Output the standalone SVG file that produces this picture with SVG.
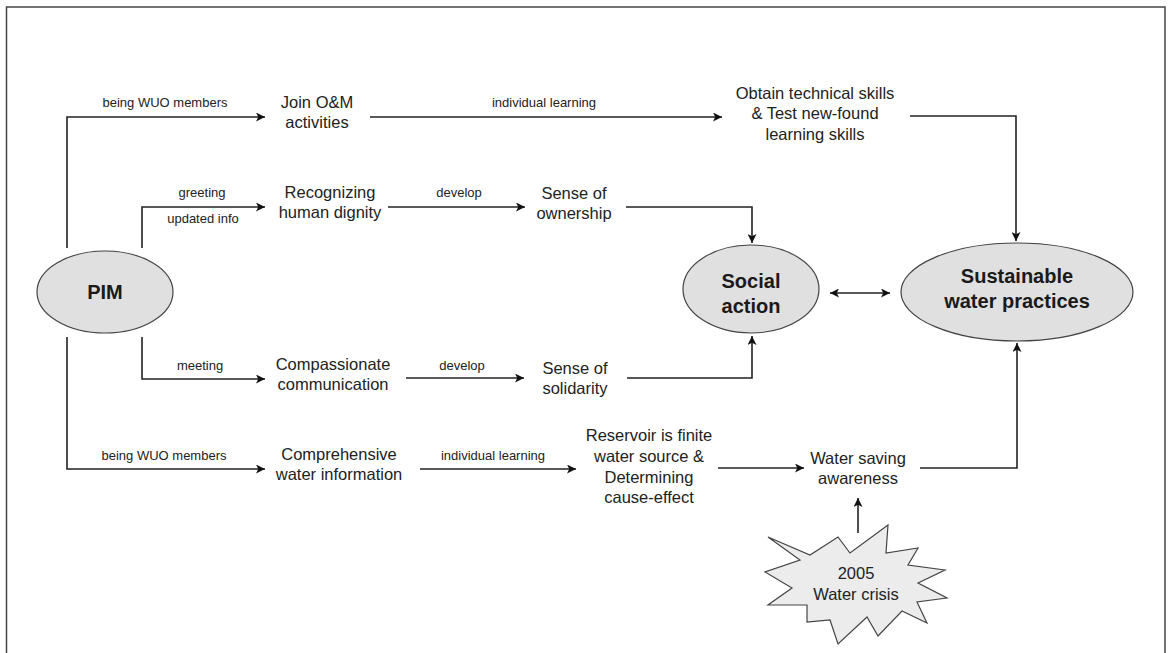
<svg xmlns="http://www.w3.org/2000/svg" width="1170" height="653" viewBox="0 0 1170 653">
<style>
.lbl{font-family:"Liberation Sans",Arial,sans-serif;font-size:13px;fill:#222;text-anchor:middle}
.txt{font-family:"Liberation Sans",Arial,sans-serif;font-size:16.5px;fill:#222;text-anchor:middle}
.bold{font-family:"Liberation Sans",Arial,sans-serif;font-size:20px;font-weight:bold;fill:#1a1a1a;text-anchor:middle}
.ell{fill:#e0e0e0;stroke:#444;stroke-width:1.2}
.con{fill:none;stroke:#222;stroke-width:1.6}
</style>
<defs>
<marker id="ah" viewBox="0 0 10 10" refX="10" refY="5" markerWidth="11" markerHeight="9" markerUnits="userSpaceOnUse" orient="auto-start-reverse">
<path d="M0,0 L10,5 L0,10 L2.5,5 z" fill="#111"/>
</marker>
</defs>
<rect width="1170" height="653" fill="#fff"/>
<rect x="6.5" y="7" width="1158.5" height="670" fill="none" stroke="#444" stroke-width="1.5"/>

<g id="connectors">
<path class="con" d="M67,248 V117 H265" marker-end="url(#ah)"/>
<path class="con" d="M142,248 V207 H265" marker-end="url(#ah)"/>
<path class="con" d="M142,337 V379 H265" marker-end="url(#ah)"/>
<path class="con" d="M67,337 V469 H265" marker-end="url(#ah)"/>
<path class="con" d="M370,117 H722" marker-end="url(#ah)"/>
<path class="con" d="M388,207 H525" marker-end="url(#ah)"/>
<path class="con" d="M626,207 H752 V243" marker-end="url(#ah)"/>
<path class="con" d="M406,378 H524" marker-end="url(#ah)"/>
<path class="con" d="M627,378 H752 V336" marker-end="url(#ah)"/>
<path class="con" d="M830,293 H890" marker-start="url(#ah)" marker-end="url(#ah)"/>
<path class="con" d="M910,116 H1016 V241" marker-end="url(#ah)"/>
<path class="con" d="M420,469 H576" marker-end="url(#ah)"/>
<path class="con" d="M718,468 H804" marker-end="url(#ah)"/>
<path class="con" d="M920,468 H1017 V343" marker-end="url(#ah)"/>
<path class="con" d="M858,533 V498" marker-end="url(#ah)"/>
<text class="lbl" x="165" y="107">being WUO members</text>
<text class="lbl" x="202" y="197">greeting</text>
<text class="lbl" x="203" y="223">updated info</text>
<text class="lbl" x="200" y="370">meeting</text>
<text class="lbl" x="164" y="460">being WUO members</text>
<text class="lbl" x="544" y="107">individual learning</text>
<text class="lbl" x="459" y="197">develop</text>
<text class="lbl" x="462" y="370">develop</text>
<text class="lbl" x="493" y="460">individual learning</text>
</g>

<g id="pim">
<ellipse class="ell" cx="105" cy="292" rx="68" ry="41"/>
<text class="bold" x="105" y="299">PIM</text>
</g>
<g id="join">
<text class="txt" x="317" y="108">Join O&amp;M</text>
<text class="txt" x="317" y="128">activities</text>
</g>
<g id="recognizing">
<text class="txt" x="330" y="198">Recognizing</text>
<text class="txt" x="330" y="218">human dignity</text>
</g>
<g id="compassionate">
<text class="txt" x="333" y="370">Compassionate</text>
<text class="txt" x="333" y="390">communication</text>
</g>
<g id="comprehensive">
<text class="txt" x="339" y="460">Comprehensive</text>
<text class="txt" x="339" y="480">water information</text>
</g>
<g id="obtain">
<text class="txt" x="815" y="99">Obtain technical skills</text>
<text class="txt" x="815" y="119">&amp; Test new-found</text>
<text class="txt" x="815" y="140">learning skills</text>
</g>
<g id="ownership">
<text class="txt" x="574" y="199">Sense of</text>
<text class="txt" x="574" y="219">ownership</text>
</g>
<g id="solidarity">
<text class="txt" x="575" y="374">Sense of</text>
<text class="txt" x="575" y="394">solidarity</text>
</g>
<g id="reservoir">
<text class="txt" x="649" y="441">Reservoir is finite</text>
<text class="txt" x="649" y="462">water source &amp;</text>
<text class="txt" x="649" y="483">Determining</text>
<text class="txt" x="649" y="503">cause-effect</text>
</g>
<g id="watersaving">
<text class="txt" x="858" y="464">Water saving</text>
<text class="txt" x="858" y="484">awareness</text>
</g>
<g id="social">
<ellipse class="ell" cx="751" cy="289" rx="68" ry="44"/>
<text class="bold" x="751" y="288">Social</text>
<text class="bold" x="751" y="313">action</text>
</g>
<g id="sustainable">
<ellipse class="ell" cx="1017" cy="292" rx="116" ry="49"/>
<text class="bold" x="1017" y="283">Sustainable</text>
<text class="bold" x="1017" y="308">water practices</text>
</g>
<g id="crisis">
<polygon points="768,537 810,555 838,537 850,553 888,525 886,553 918,548 908,565 945,570 918,583 947,598 917,602 927,623 902,611 878,636 867,617 838,644 830,620 807,622 807,605 768,605 792,588 765,572 800,560" fill="#ececec" stroke="#444" stroke-width="1.2" stroke-linejoin="miter"/>
<text class="txt" x="856" y="579">2005</text>
<text class="txt" x="856" y="600">Water crisis</text>
</g>
</svg>
